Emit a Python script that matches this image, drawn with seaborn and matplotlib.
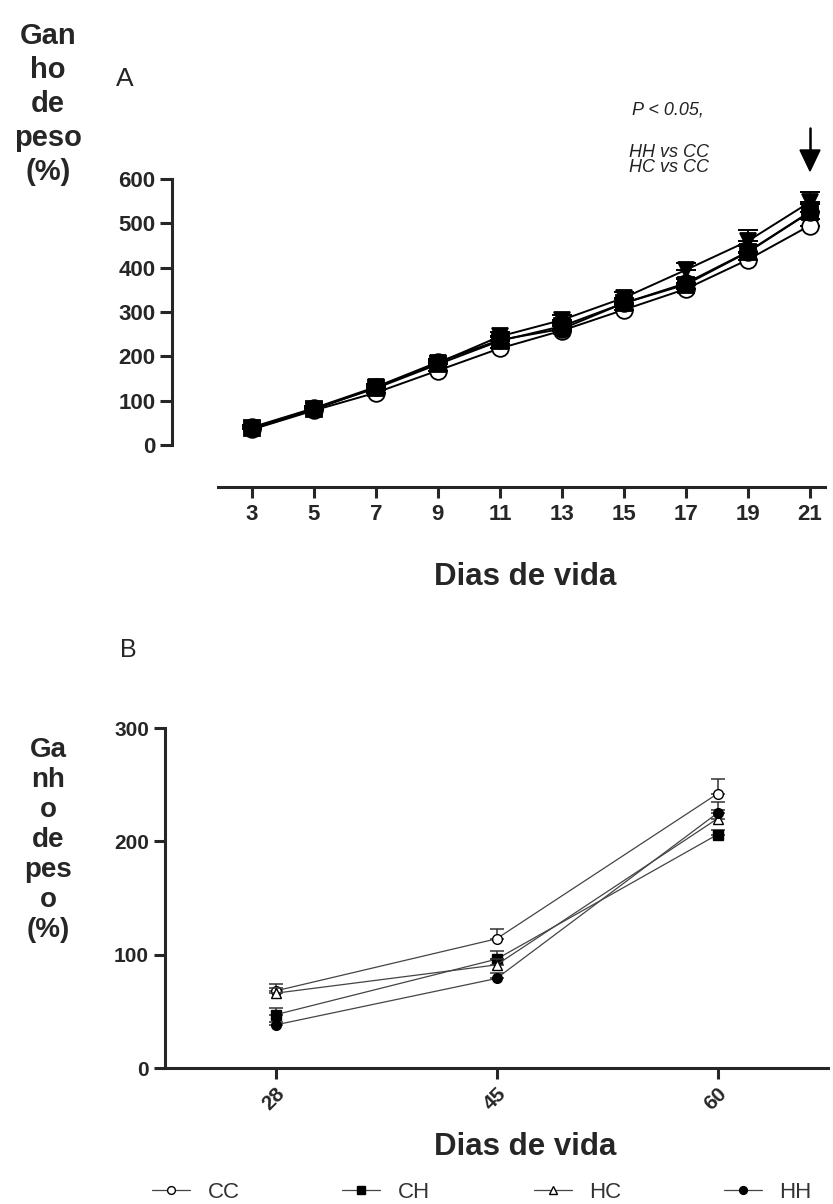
import numpy as np
import pandas as pd
import matplotlib
matplotlib.use("Agg")
import matplotlib.pyplot as plt
import seaborn as sns

sns.set_style("ticks")
plt.rcParams["font.family"] = ["Liberation Sans", "DejaVu Sans"]

# Panel A data: weight gain (%) by days of life
dias_a = [3, 5, 7, 9, 11, 13, 15, 17, 19, 21]
cc_a = [35, 78, 118, 168, 218, 258, 305, 352, 418, 495]
ch_a = [38, 82, 128, 182, 235, 268, 320, 362, 435, 525]
hc_a = [36, 80, 130, 185, 245, 282, 332, 395, 460, 548]
hh_a = [40, 83, 131, 187, 237, 262, 320, 365, 436, 526]
cc_a_err = [5, 6, 7, 8, 9, 10, 10, 12, 15, 15]
ch_a_err = [5, 6, 7, 8, 9, 10, 10, 12, 15, 18]
hc_a_err = [5, 8, 8, 9, 10, 12, 12, 15, 25, 23]
hh_a_err = [5, 6, 7, 8, 9, 10, 10, 12, 15, 18]

# Panel B data
dias_b = ["28", "45", "60"]
cc_b = [68, 114, 242]
ch_b = [47, 96, 206]
hc_b = [66, 91, 220]
hh_b = [38, 79, 225]
cc_b_err = [6, 9, 13]
ch_b_err = [6, 7, 4]
hc_b_err = [5, 5, 8]
hh_b_err = [3, 5, 10]

grupos = ["CC", "CH", "HC", "HH"]

W, H = 833, 1204
fig = plt.figure(figsize=(W / 100, H / 100), dpi=100)


def fx(px):
    return px / W


def fy(py):
    return 1 - py / H


# ---------- Panel A ----------
axA = fig.add_axes([fx(172), fy(445), fx(830 - 172), (445 - 179) / H])
estilo_a = {
    "CC": dict(marker="o", markerfacecolor="white"),
    "CH": dict(marker="s", markerfacecolor="black"),
    "HC": dict(marker="v", markerfacecolor="black"),
    "HH": dict(marker="o", markerfacecolor="black"),
}
series_a = {"CC": (cc_a, cc_a_err), "CH": (ch_a, ch_a_err),
            "HC": (hc_a, hc_a_err), "HH": (hh_a, hh_a_err)}
for g in grupos:
    vals, err = series_a[g]
    axA.errorbar(dias_a, vals, yerr=[np.zeros(len(err)), err], fmt="none",
                 ecolor="black", elinewidth=1.4, capsize=7, capthick=1.4,
                 clip_on=False)
    sns.lineplot(x=dias_a, y=vals, ax=axA, color="black", linewidth=1.4,
                 markersize=12, markeredgecolor="black", markeredgewidth=1.3,
                 clip_on=False, errorbar=None, **estilo_a[g])

xlo, xhi = 0.42, 21.65
axA.set_xlim(xlo, xhi)
axA.set_ylim(0, 600)
axA.set_yticks([0, 100, 200, 300, 400, 500, 600])
axA.set_xticks([])
for s in ["top", "right", "bottom"]:
    axA.spines[s].set_visible(False)
axA.spines["left"].set_linewidth(2.2)
axA.tick_params(axis="y", width=2.2, length=9, labelsize=16, pad=3)
for t in axA.get_yticklabels():
    t.set_fontweight("bold")

# detached x axis of panel A (same data scale as the plot above it)
ppd = (830 - 172) / (xhi - xlo)
axAx = fig.add_axes([fx(218), fy(487), fx(825 - 218), 0.0001])
axAx.set_xlim(xlo + (218 - 172) / ppd, xlo + (825 - 172) / ppd)
axAx.set_xticks(dias_a)
axAx.set_xticklabels([str(d) for d in dias_a], fontweight="bold", fontsize=16)
axAx.set_yticks([])
for s in ["top", "right", "left"]:
    axAx.spines[s].set_visible(False)
axAx.spines["bottom"].set_linewidth(2.2)
axAx.tick_params(axis="x", width=2.2, length=8, pad=4)
axAx.patch.set_visible(False)

fig.text(fx(525), fy(577), "Dias de vida", fontsize=22.5,
         fontweight="bold", ha="center", va="center")
fig.text(fx(48), fy(104), "Gan\nho\nde\npeso\n(%)", fontsize=21,
         fontweight="bold", ha="center", va="center", linespacing=1.28)
fig.text(fx(125), fy(79), "A", fontsize=19, ha="center", va="center")

fig.text(fx(668), fy(110), "P < 0.05,", fontsize=13,
         style="italic", ha="center", va="center", color="#222222")
fig.text(fx(669), fy(160), "HH vs CC\nHC vs CC", fontsize=13,
         style="italic", ha="center", va="center", color="#222222",
         linespacing=0.85)
fig.patches.append(plt.Polygon(
    [[fx(800), fy(150)], [fx(820), fy(150)], [fx(810), fy(171)]],
    closed=True, transform=fig.transFigure,
    facecolor="black", edgecolor="black"))
fig.lines.append(plt.Line2D([fx(810), fx(810)], [fy(128), fy(152)],
                            transform=fig.transFigure, color="black", lw=1.8))

# ---------- Panel B ----------
axB = fig.add_axes([fx(165), fy(1068), fx(828 - 165), (1068 - 728) / H])
estilo_b = {
    "CC": dict(marker="o", markerfacecolor="white"),
    "CH": dict(marker="s", markerfacecolor="black"),
    "HC": dict(marker="^", markerfacecolor="white"),
    "HH": dict(marker="o", markerfacecolor="black"),
}
series_b = {"CC": (cc_b, cc_b_err), "CH": (ch_b, ch_b_err),
            "HC": (hc_b, hc_b_err), "HH": (hh_b, hh_b_err)}
pos_b = np.arange(len(dias_b))
handles = {}
for g in grupos:
    vals, err = series_b[g]
    axB.errorbar(pos_b, vals, yerr=[np.zeros(len(err)), err], fmt="none",
                 ecolor="#333333", elinewidth=1.1, capsize=5, capthick=1.1)
    sns.lineplot(x=pos_b, y=vals, ax=axB, color="#444444", linewidth=0.9,
                 markersize=7, markeredgecolor="black", markeredgewidth=1.0,
                 errorbar=None, **estilo_b[g])
    handles[g] = axB.get_lines()[-1]

axB.set_xlim(-0.5, 2.5)
axB.set_ylim(0, 300)
axB.set_yticks([0, 100, 200, 300])
axB.set_xticks(pos_b)
axB.set_xticklabels(dias_b, rotation=45, ha="right", rotation_mode="anchor")
for s in ["top", "right"]:
    axB.spines[s].set_visible(False)
axB.spines["left"].set_linewidth(2.2)
axB.spines["bottom"].set_linewidth(2.2)
axB.tick_params(axis="both", width=2.2, length=8, labelsize=15)
for t in axB.get_yticklabels() + axB.get_xticklabels():
    t.set_fontweight("bold")

fig.text(fx(525), fy(1147), "Dias de vida", fontsize=22.5,
         fontweight="bold", ha="center", va="center")
fig.text(fx(48), fy(840), "Ga\nnh\no\nde\npes\no\n(%)", fontsize=20,
         fontweight="bold", ha="center", va="center", linespacing=1.2)
fig.text(fx(128), fy(650), "B", fontsize=18, ha="center", va="center")

# legend entries spread across the bottom
leg_x = {"CC": 152, "CH": 342, "HC": 534, "HH": 724}
for g in grupos:
    leg = fig.legend(handles=[handles[g]], labels=[g], loc="center left",
                     bbox_to_anchor=(fx(leg_x[g]), fy(1192)),
                     frameon=False, fontsize=16, handlelength=1.7,
                     handletextpad=0.8, borderpad=0, borderaxespad=0,
                     markerscale=0.8)
    for t in leg.get_texts():
        t.set_color("#333333")

fig.savefig("out.png", dpi=100)
